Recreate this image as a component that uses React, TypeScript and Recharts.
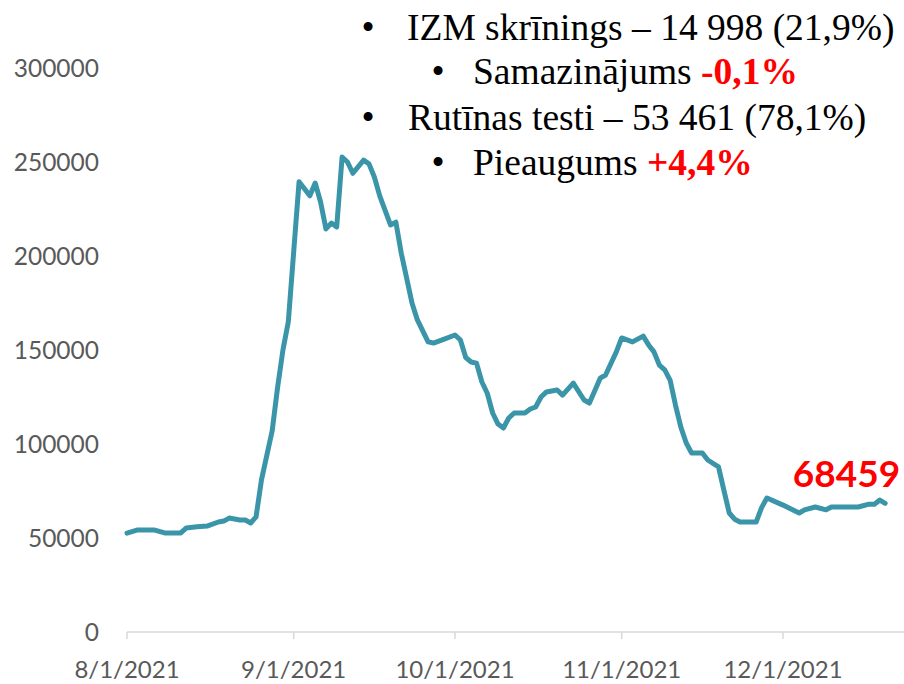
import { LineChart, Line, XAxis, YAxis } from "recharts";

// days counted from 8/1/2021
const days = [
  0, 2, 5, 7, 10, 11, 13, 15, 17, 18, 19, 21, 22, 23, 24, 25, 27, 28, 29, 30,
  32, 34, 35, 36, 37, 38, 39, 40, 41, 42, 44, 45, 46, 47, 49, 50, 51, 53, 54,
  56, 57, 59, 61, 62, 63, 64, 65, 66, 67, 68, 69, 70, 71, 72, 74, 75, 76, 77,
  78, 80, 81, 83, 85, 86, 88, 89, 91, 92, 94, 96, 97, 98, 99, 100, 101, 102,
  103, 104, 105, 107, 108, 110, 111, 112, 113, 114, 117, 118, 119, 122, 125,
  126, 128, 130, 131, 136, 138, 139, 140, 141,
];

const tests = [
  52600, 54300, 54300, 52700, 52700, 55300, 56000, 56400, 58500, 59000, 60600,
  59600, 59600, 58000, 61200, 80800, 107000, 130000, 150000, 165000, 239500,
  232000, 238800, 228700, 214400, 217500, 215400, 252600, 250000, 244000,
  251000, 249000, 242000, 232000, 216500, 218000, 201600, 175000, 166000,
  154300, 153700, 155800, 158000, 155300, 146000, 143600, 143000, 133000,
  127000, 116500, 110600, 108500, 113800, 116500, 116500, 118600, 119700,
  125000, 127700, 128700, 126000, 132400, 123400, 121800, 135000, 136700,
  149000, 156400, 154300, 157400, 152700, 149000, 142000, 139400, 134000,
  120700, 109000, 100500, 95200, 95200, 91500, 87800, 75500, 63300, 60000,
  58500, 58500, 66000, 71300, 67500, 63300, 65000, 66500, 65000, 66500, 66500,
  68000, 68000, 70200, 68459,
];

const tickDays = [0, 31, 61, 92, 122];
const tickLabels = ["8/1/2021", "9/1/2021", "10/1/2021", "11/1/2021", "12/1/2021"];
const yTicks = [0, 50000, 100000, 150000, 200000, 250000, 300000];

const data = days.map((d, i) => ({ day: d, tests: tests[i] }));

const xFont = { fontFamily: "Lato", fontSize: 24, fill: "#595959" };
const yFont = { fontFamily: "Lato", fontSize: 24.5, fill: "#595959" };

function LastLabel(props: any) {
  const { x, y, index, value } = props;
  if (index !== data.length - 1) return null;
  return (
    <text
      x={x + 15}
      y={y - 16}
      textAnchor="end"
      fontFamily="Lato"
      fontWeight="bold"
      fontSize={37}
      fill="#FF0000"
    >
      {value}
    </text>
  );
}

const serif = "'Liberation Serif', 'Times New Roman', serif";

export default function App() {
  return (
    <div style={{ position: "absolute", left: 0, top: 0, width: 904, height: 684 }}>
      <LineChart
        width={904}
        height={684}
        data={data}
        margin={{ top: 68, right: 0, left: 0, bottom: 0 }}
      >
        <XAxis
          dataKey="day"
          type="number"
          domain={[0, 144.5]}
          ticks={tickDays}
          tickFormatter={(d: number) => tickLabels[tickDays.indexOf(d)]}
          height={52}
          stroke="#D9D9D9"
          strokeWidth={1.5}
          tickSize={7}
          tickMargin={22}
          tick={xFont}
        />
        <YAxis
          type="number"
          domain={[0, 300000]}
          ticks={yTicks}
          width={127}
          axisLine={false}
          tickLine={false}
          tickSize={0}
          tickMargin={28}
          tick={yFont}
        />
        <Line
          dataKey="tests"
          type="linear"
          stroke="#3A95A9"
          strokeWidth={5}
          strokeLinejoin="round"
          strokeLinecap="round"
          dot={false}
          isAnimationActive={false}
          label={<LastLabel />}
        />
      </LineChart>
      <svg
        width={904}
        height={684}
        style={{ position: "absolute", left: 0, top: 0, pointerEvents: "none" }}
      >
        <g fontFamily={serif} fontSize={37.5} fill="#000">
          <text x={368} y={40} textAnchor="middle">•</text>
          <text x={407} y={40}>IZM skrīnings – 14 998 (21,9%)</text>
          <text x={438} y={84} textAnchor="middle">•</text>
          <text x={473} y={84}>
            Samazinājums <tspan fill="#FF0000" fontWeight="bold">-0,1%</tspan>
          </text>
          <text x={368} y={130} textAnchor="middle">•</text>
          <text x={408} y={130}>Rutīnas testi – 53 461 (78,1%)</text>
          <text x={438} y={175} textAnchor="middle">•</text>
          <text x={473} y={175}>
            Pieaugums <tspan fill="#FF0000" fontWeight="bold">+4,4%</tspan>
          </text>
        </g>
      </svg>
    </div>
  );
}
